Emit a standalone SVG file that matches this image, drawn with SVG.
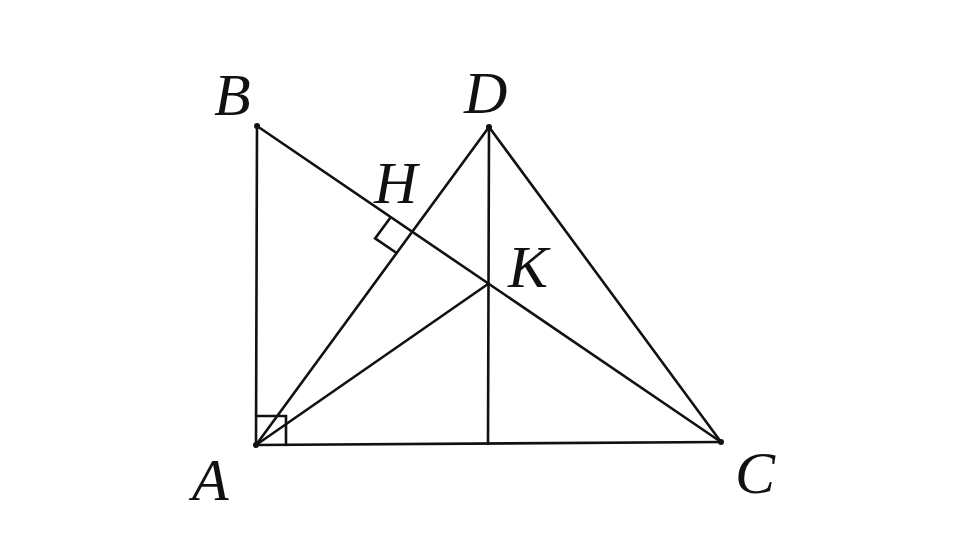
<svg xmlns="http://www.w3.org/2000/svg" width="960" height="540" viewBox="0 0 960 540">
<style>
.l{stroke:#111;stroke-width:2.6;fill:none;stroke-linecap:round}
.t{font-family:"Liberation Serif",serif;font-style:italic;font-size:60px;fill:#111}
.p{fill:#111}
</style>
<rect width="960" height="540" fill="#fff"/>
<g id="connectors">
<line class="l" x1="256" y1="445" x2="257" y2="126"/>
<line class="l" x1="257" y1="126" x2="721" y2="442"/>
<line class="l" x1="256" y1="445" x2="721" y2="442"/>
<line class="l" x1="256" y1="445" x2="489" y2="127"/>
<line class="l" x1="256" y1="445" x2="488" y2="284"/>
<line class="l" x1="489" y1="127" x2="721" y2="442"/>
<line class="l" x1="489" y1="127" x2="488" y2="444"/>
<polyline class="l" points="390.5,217.4 375.1,238.4 396.6,253"/>
<polyline class="l" points="256,416 286,416 286,445"/>
</g>
<g id="A"><circle class="p" cx="256" cy="445" r="3"/><text class="t" x="192" y="500">A</text></g>
<g id="B"><circle class="p" cx="257" cy="126" r="3"/><text class="t" x="214" y="115">B</text></g>
<g id="C"><circle class="p" cx="721" cy="442" r="3"/><text class="t" x="735" y="493">C</text></g>
<g id="D"><circle class="p" cx="489" cy="127" r="3"/><text class="t" x="464" y="113">D</text></g>
<g id="H"><text class="t" x="374" y="203">H</text></g>
<g id="K"><circle class="p" cx="488" cy="284" r="2"/><text class="t" x="508" y="287">K</text></g>
</svg>
